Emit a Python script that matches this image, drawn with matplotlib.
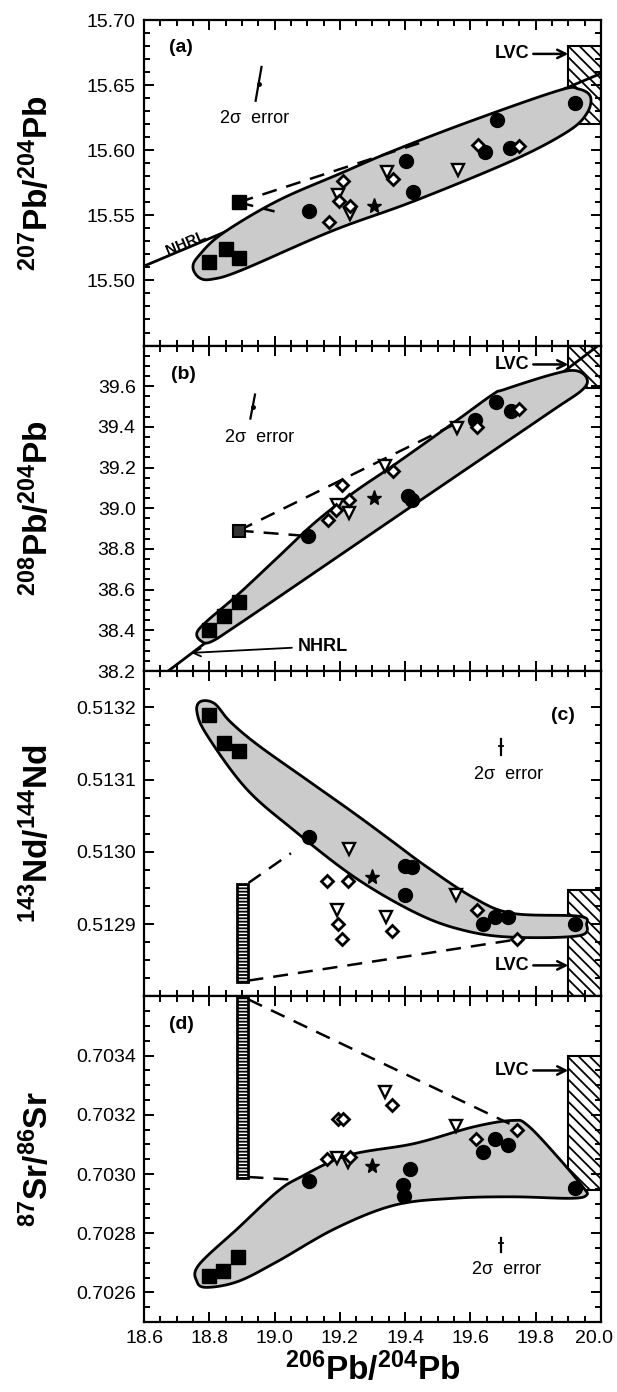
import numpy as np
import matplotlib
matplotlib.use('Agg')
import matplotlib.pyplot as plt
import matplotlib.transforms as mtransforms
from matplotlib.patches import Rectangle, Polygon
from matplotlib.ticker import MultipleLocator, FormatStrFormatter

plt.rcParams['font.family'] = ['Liberation Sans', 'DejaVu Sans']
plt.rcParams['mathtext.fontset'] = 'custom'
plt.rcParams['mathtext.rm'] = 'Liberation Sans'
plt.rcParams['mathtext.bf'] = 'Liberation Sans:bold'
plt.rcParams['hatch.linewidth'] = 1.3

# ---------------- data ----------------
xlim = (18.6, 20.0)

# (a) 207Pb/204Pb
a_sq_x = [18.80, 18.85, 18.89]
a_sq_y = [15.514, 15.524, 15.517]
a_ci_x = [19.106, 19.403, 19.423, 19.68, 19.644, 19.721, 19.92]
a_ci_y = [15.553, 15.592, 15.568, 15.623, 15.599, 15.602, 15.636]
a_di_x = [19.167, 19.21, 19.198, 19.232, 19.364, 19.624, 19.75]
a_di_y = [15.545, 15.576, 15.561, 15.557, 15.578, 15.604, 15.603]
a_tr_x = [19.195, 19.232, 19.343, 19.563]
a_tr_y = [15.566, 15.551, 15.583, 15.585]
a_st = (19.304, 15.557)
a_end = (18.89, 15.56)
a_mix_hi = (19.45, 15.606)
a_mix_lo = (19.0, 15.553)
a_nhrl_x = [18.6, 20.0]
a_nhrl_y = [15.511, 15.659]
a_lvc = (19.9, 15.62, 15.68)
a_env_x = [19.968, 19.932, 19.872, 19.608, 19.368, 19.200, 19.008, 18.840, 18.768,
           18.750, 18.770, 18.810, 18.900, 19.176, 19.428, 19.728, 19.896, 19.956]
a_env_y = [15.641, 15.647, 15.646, 15.623, 15.600, 15.582, 15.561, 15.536, 15.519,
           15.510, 15.502, 15.501, 15.508, 15.538, 15.561, 15.592, 15.614, 15.628]

# (b) 208Pb/204Pb
b_sq_x = [18.80, 18.846, 18.89]
b_sq_y = [38.40, 38.469, 38.54]
b_ci_x = [19.103, 19.41, 19.42, 19.614, 19.677, 19.724]
b_ci_y = [38.862, 39.06, 39.04, 39.436, 39.52, 39.48]
b_di_x = [19.165, 19.206, 19.188, 19.228, 19.362, 19.62, 19.75]
b_di_y = [38.944, 39.116, 38.993, 39.043, 39.182, 39.40, 39.49]
b_tr_x = [19.192, 19.229, 19.338, 19.56]
b_tr_y = [39.018, 38.977, 39.206, 39.395]
b_st = (19.304, 39.05)
b_end = (18.89, 38.89)
b_mix_hi = (19.56, 39.42)
b_mix_lo = (19.09, 38.865)
b_nhrl_x = [18.6, 20.0]
b_nhrl_y = [38.11, 39.81]
b_lvc = (19.9, 39.59, 39.8)
b_env_x = [19.956, 19.920, 19.848, 19.704, 19.668, 19.548, 19.368, 19.248, 19.128,
           19.008, 18.888, 18.792, 18.762, 18.774, 18.804, 18.888, 19.128, 19.368,
           19.608, 19.848, 19.944]
b_env_y = [39.641, 39.677, 39.657, 39.584, 39.559, 39.420, 39.215, 39.084, 38.936,
           38.756, 38.576, 38.444, 38.387, 38.349, 38.343, 38.428, 38.690, 38.953,
           39.215, 39.477, 39.584]

# (c) 143Nd/144Nd
c_sq_x = [18.80, 18.846, 18.89]
c_sq_y = [0.513189, 0.51315, 0.51314]
c_ci_x = [19.107, 19.40, 19.42, 19.40, 19.64, 19.676, 19.716, 19.92]
c_ci_y = [0.51302, 0.512981, 0.512979, 0.51294, 0.5129, 0.51291, 0.51291, 0.5129]
c_di_x = [19.16, 19.226, 19.194, 19.208, 19.36, 19.62, 19.742]
c_di_y = [0.51296, 0.51296, 0.5129, 0.51288, 0.51289, 0.51292, 0.51288]
c_tr_x = [19.228, 19.19, 19.34, 19.556]
c_tr_y = [0.513004, 0.51292, 0.51291, 0.51294]
c_st = (19.30, 0.512965)
c_bar = (18.885, 18.92, 0.51282, 0.512955)
c_mix_hi = ((18.92, 0.512957), (19.05, 0.512998))
c_mix_lo = ((18.92, 0.512822), (19.73, 0.512878))
c_lvc = (19.9, 0.5128, 0.512947)
c_env_x = [18.774, 18.816, 18.864, 18.948, 19.104, 19.248, 19.368, 19.464, 19.608,
           19.728, 19.932, 19.956, 19.932, 19.728, 19.584, 19.440, 19.248, 19.056,
           18.912, 18.792, 18.762]
c_env_y = [0.513208, 0.513205, 0.513180, 0.513148, 0.513098, 0.513052, 0.513012,
           0.512980, 0.512937, 0.512915, 0.512911, 0.512900, 0.512884, 0.512882,
           0.512891, 0.512914, 0.512964, 0.513031, 0.513088, 0.513162, 0.513194]

# (d) 87Sr/86Sr
d_sq_x = [18.80, 18.842, 18.888]
d_sq_y = [0.702654, 0.702673, 0.702721]
d_ci_x = [19.107, 19.416, 19.394, 19.398, 19.638, 19.674, 19.716, 19.92]
d_ci_y = [0.702976, 0.703016, 0.702962, 0.702925, 0.703075, 0.703117, 0.703097, 0.702953]
d_di_x = [19.161, 19.195, 19.21, 19.23, 19.36, 19.617, 19.742]
d_di_y = [0.703052, 0.703187, 0.703187, 0.703058, 0.703232, 0.70312, 0.703148]
d_tr_x = [19.19, 19.224, 19.338, 19.556]
d_tr_y = [0.703055, 0.703039, 0.703277, 0.703164]
d_st = (19.30, 0.703026)
d_bar = (18.885, 18.92, 0.702985, 0.7036)
d_mix_hi = ((18.92, 0.70359), (19.72, 0.70317))
d_mix_lo = ((18.92, 0.70299), (19.07, 0.70298))
d_lvc = (19.9, 0.702946, 0.7034)
d_env_x = [18.768, 18.888, 19.008, 19.080, 19.224, 19.428, 19.608, 19.728, 19.776,
           19.872, 19.944, 19.956, 19.908, 19.728, 19.548, 19.368, 19.188, 19.008,
           18.888, 18.792, 18.762]
d_env_y = [0.702693, 0.702817, 0.702940, 0.702990, 0.703063, 0.703103, 0.703159,
           0.703181, 0.703164, 0.703052, 0.702957, 0.702929, 0.702918, 0.702923,
           0.702918, 0.702895, 0.702817, 0.702704, 0.702637, 0.702617, 0.702637]


def smooth_closed(xs, ys, n=14):
    # closed Catmull-Rom through the outline points
    P = np.column_stack([xs, ys]).astype(float)
    N = len(P)
    t = np.linspace(0, 1, n, endpoint=False)[:, None]
    out = []
    for i in range(N):
        p0, p1, p2, p3 = P[i - 1], P[i], P[(i + 1) % N], P[(i + 2) % N]
        out.append(0.5 * (2 * p1 + (-p0 + p2) * t + (2 * p0 - 5 * p1 + 4 * p2 - p3) * t ** 2
                          + (-p0 + 3 * p1 - 3 * p2 + p3) * t ** 3))
    return np.vstack(out)


def envelope(ax, xs, ys):
    ax.add_patch(Polygon(smooth_closed(xs, ys), closed=True, facecolor='#cbcbcb',
                         edgecolor='black', lw=2.0, zorder=3))


def lvc(ax, box, ytxt):
    x0, y0, y1 = box
    ax.add_patch(Rectangle((x0, y0), 20.0 - x0, y1 - y0, facecolor='white',
                           edgecolor='black', hatch='\\\\\\', lw=1.5, zorder=1))
    ax.annotate('LVC', xy=(x0, ytxt), xytext=(19.78, ytxt), ha='right', va='center',
                fontsize=13, fontweight='bold',
                arrowprops=dict(arrowstyle='->', lw=1.8, shrinkA=1, shrinkB=0,
                                mutation_scale=15), zorder=6)


def bar(ax, b):
    x0, x1, y0, y1 = b
    ax.add_patch(Rectangle((x0, y0), x1 - x0, y1 - y0, facecolor='white',
                           edgecolor='black', hatch='-----', lw=2.0, zorder=4))


def symbols(ax, sqx, sqy, cix, ciy, dix, diy, trx, try_, st):
    ax.plot(sqx, sqy, 's', ms=9.5, color='black', zorder=6)
    ax.plot(cix, ciy, 'o', ms=10, color='black', zorder=6)
    ax.plot(trx, try_, 'v', ms=8, mfc='white', mec='black', mew=1.7, zorder=6)
    ax.plot(dix, diy, 'D', ms=6.5, mfc='white', mec='black', mew=2.0, zorder=7)
    ax.plot(*st, '*', ms=11, color='black', zorder=6)


dash = (6, 4)
fig, axs = plt.subplots(4, 1, sharex=True, figsize=(6.17, 13.92), dpi=100)
fig.subplots_adjust(left=0.2334, right=0.974, top=0.9856, bottom=0.0503, hspace=0)
ax_a, ax_b, ax_c, ax_d = axs

# ---- (a)
ax = ax_a
ax.plot(a_nhrl_x, a_nhrl_y, color='black', lw=2.0, zorder=2)
lvc(ax, a_lvc, 15.674)
envelope(ax, a_env_x, a_env_y)
for p in (a_mix_hi, a_mix_lo):
    ax.plot([a_end[0], p[0]], [a_end[1], p[1]], color='black', lw=1.8, dashes=dash, zorder=4)
ax.plot(*a_end, 's', ms=9.5, color='black', zorder=6)
symbols(ax, a_sq_x, a_sq_y, a_ci_x, a_ci_y, a_di_x, a_di_y, a_tr_x, a_tr_y, a_st)
ax.plot([18.96, 18.942], [15.664, 15.638], color='black', lw=1.6)
ax.plot(18.951, 15.651, marker='o', ms=2.5, color='black')
ax.text(18.94, 15.624, '2σ  error', ha='center', va='center', fontsize=13)
ax.text(18.714, 15.679, '(a)', ha='center', va='center', fontsize=14, fontweight='bold')
ax.text(18.728, 15.529, 'NHRL', ha='center', va='center', rotation=23,
        rotation_mode='anchor', fontsize=11, fontweight='bold')
ax.set_ylim(15.45, 15.70)
ax.set_yticks([15.50, 15.55, 15.60, 15.65, 15.70])
ax.yaxis.set_minor_locator(MultipleLocator(0.01))
ax.yaxis.set_major_formatter(FormatStrFormatter('%.2f'))
ax.set_ylabel(r'$\mathbf{{}^{207}Pb/{}^{204}Pb}$', fontsize=24)

# ---- (b)
ax = ax_b
ax.plot(b_nhrl_x, b_nhrl_y, color='black', lw=2.0, zorder=2)
lvc(ax, b_lvc, 39.707)
envelope(ax, b_env_x, b_env_y)
for p in (b_mix_hi, b_mix_lo):
    ax.plot([b_end[0], p[0]], [b_end[1], p[1]], color='black', lw=1.8, dashes=dash, zorder=4)
ax.plot(*b_end, 's', ms=9, mfc='#333333', mec='black', mew=1.5, zorder=6)
symbols(ax, b_sq_x, b_sq_y, b_ci_x, b_ci_y, b_di_x, b_di_y, b_tr_x, b_tr_y, b_st)
ax.plot([18.94, 18.926], [39.559, 39.441], color='black', lw=1.6)
ax.plot(18.933, 39.50, marker='o', ms=2.5, color='black')
ax.text(18.955, 39.35, '2σ  error', ha='center', va='center', fontsize=13)
ax.text(18.72, 39.657, '(b)', ha='center', va='center', fontsize=14, fontweight='bold')
ax.annotate('NHRL', xy=(18.744, 38.289), xytext=(19.07, 38.322), ha='left', va='center',
            fontsize=13, fontweight='bold',
            arrowprops=dict(arrowstyle='->', lw=1.3, shrinkA=2, shrinkB=0, mutation_scale=14))
ax.set_ylim(38.2, 39.8)
ax.set_yticks([38.2, 38.4, 38.6, 38.8, 39.0, 39.2, 39.4, 39.6])
ax.yaxis.set_minor_locator(MultipleLocator(0.05))
ax.yaxis.set_major_formatter(FormatStrFormatter('%.1f'))
ax.set_ylabel(r'$\mathbf{{}^{208}Pb/{}^{204}Pb}$', fontsize=24)

# ---- (c)
ax = ax_c
lvc(ax, c_lvc, 0.512843)
envelope(ax, c_env_x, c_env_y)
bar(ax, c_bar)
for p, q in (c_mix_hi, c_mix_lo):
    ax.plot([p[0], q[0]], [p[1], q[1]], color='black', lw=1.8, dashes=dash, zorder=4)
symbols(ax, c_sq_x, c_sq_y, c_ci_x, c_ci_y, c_di_x, c_di_y, c_tr_x, c_tr_y, c_st)
ax.plot([19.695, 19.695], [0.513134, 0.513156], color='black', lw=1.6)
ax.plot([19.689, 19.701], [0.513147, 0.513147], color='black', lw=1.3)
ax.text(19.716, 0.513107, '2σ  error', ha='center', va='center', fontsize=13)
ax.text(19.884, 0.513189, '(c)', ha='center', va='center', fontsize=14, fontweight='bold')
ax.set_ylim(0.5128, 0.51325)
ax.set_yticks([0.5129, 0.5130, 0.5131, 0.5132])
ax.yaxis.set_minor_locator(MultipleLocator(0.000025))
ax.yaxis.set_major_formatter(FormatStrFormatter('%.4f'))
ax.set_ylabel(r'$\mathbf{{}^{143}Nd/{}^{144}Nd}$', fontsize=24)

# ---- (d)
ax = ax_d
lvc(ax, d_lvc, 0.70335)
envelope(ax, d_env_x, d_env_y)
bar(ax, d_bar)
for p, q in (d_mix_hi, d_mix_lo):
    ax.plot([p[0], q[0]], [p[1], q[1]], color='black', lw=1.8, dashes=dash, zorder=4)
symbols(ax, d_sq_x, d_sq_y, d_ci_x, d_ci_y, d_di_x, d_di_y, d_tr_x, d_tr_y, d_st)
ax.plot([19.695, 19.695], [0.702738, 0.702784], color='black', lw=1.6)
ax.plot([19.689, 19.701], [0.702766, 0.702766], color='black', lw=1.3)
ax.text(19.71, 0.702676, '2σ  error', ha='center', va='center', fontsize=13)
ax.text(18.714, 0.703507, '(d)', ha='center', va='center', fontsize=14, fontweight='bold')
ax.set_ylim(0.7025, 0.7036)
ax.set_yticks([0.7026, 0.7028, 0.7030, 0.7032, 0.7034])
ax.yaxis.set_minor_locator(MultipleLocator(0.00005))
ax.yaxis.set_major_formatter(FormatStrFormatter('%.4f'))
ax.set_ylabel(r'$\mathbf{{}^{87}Sr/{}^{86}Sr}$', fontsize=24)
ax.set_xlabel(r'$\mathbf{{}^{206}Pb/{}^{204}Pb}$', fontsize=24)

ax.set_xlim(*xlim)
ax.set_xticks([18.6, 18.8, 19.0, 19.2, 19.4, 19.6, 19.8, 20.0])
ax.xaxis.set_minor_locator(MultipleLocator(0.05))
ax.xaxis.set_major_formatter(FormatStrFormatter('%.1f'))

for ax in axs:
    for s in ax.spines.values():
        s.set_linewidth(1.6)
    ax.tick_params(which='both', direction='in', top=True, right=True, labelsize=14, width=1.4)
    ax.tick_params(which='major', length=7.5, pad=6)
    ax.tick_params(which='minor', length=4.5)
    ax.yaxis.set_label_coords(-0.195, 0.5)
ax_d.xaxis.set_label_coords(0.5, -0.092)

# nudge the last x tick label so it stays inside the figure
last = ax_d.xaxis.get_major_ticks()[-1].label1
last.set_transform(last.get_transform() +
                   mtransforms.ScaledTranslation(-5 / 72, 0, fig.dpi_scale_trans))

fig.savefig('out.png', dpi=100)
